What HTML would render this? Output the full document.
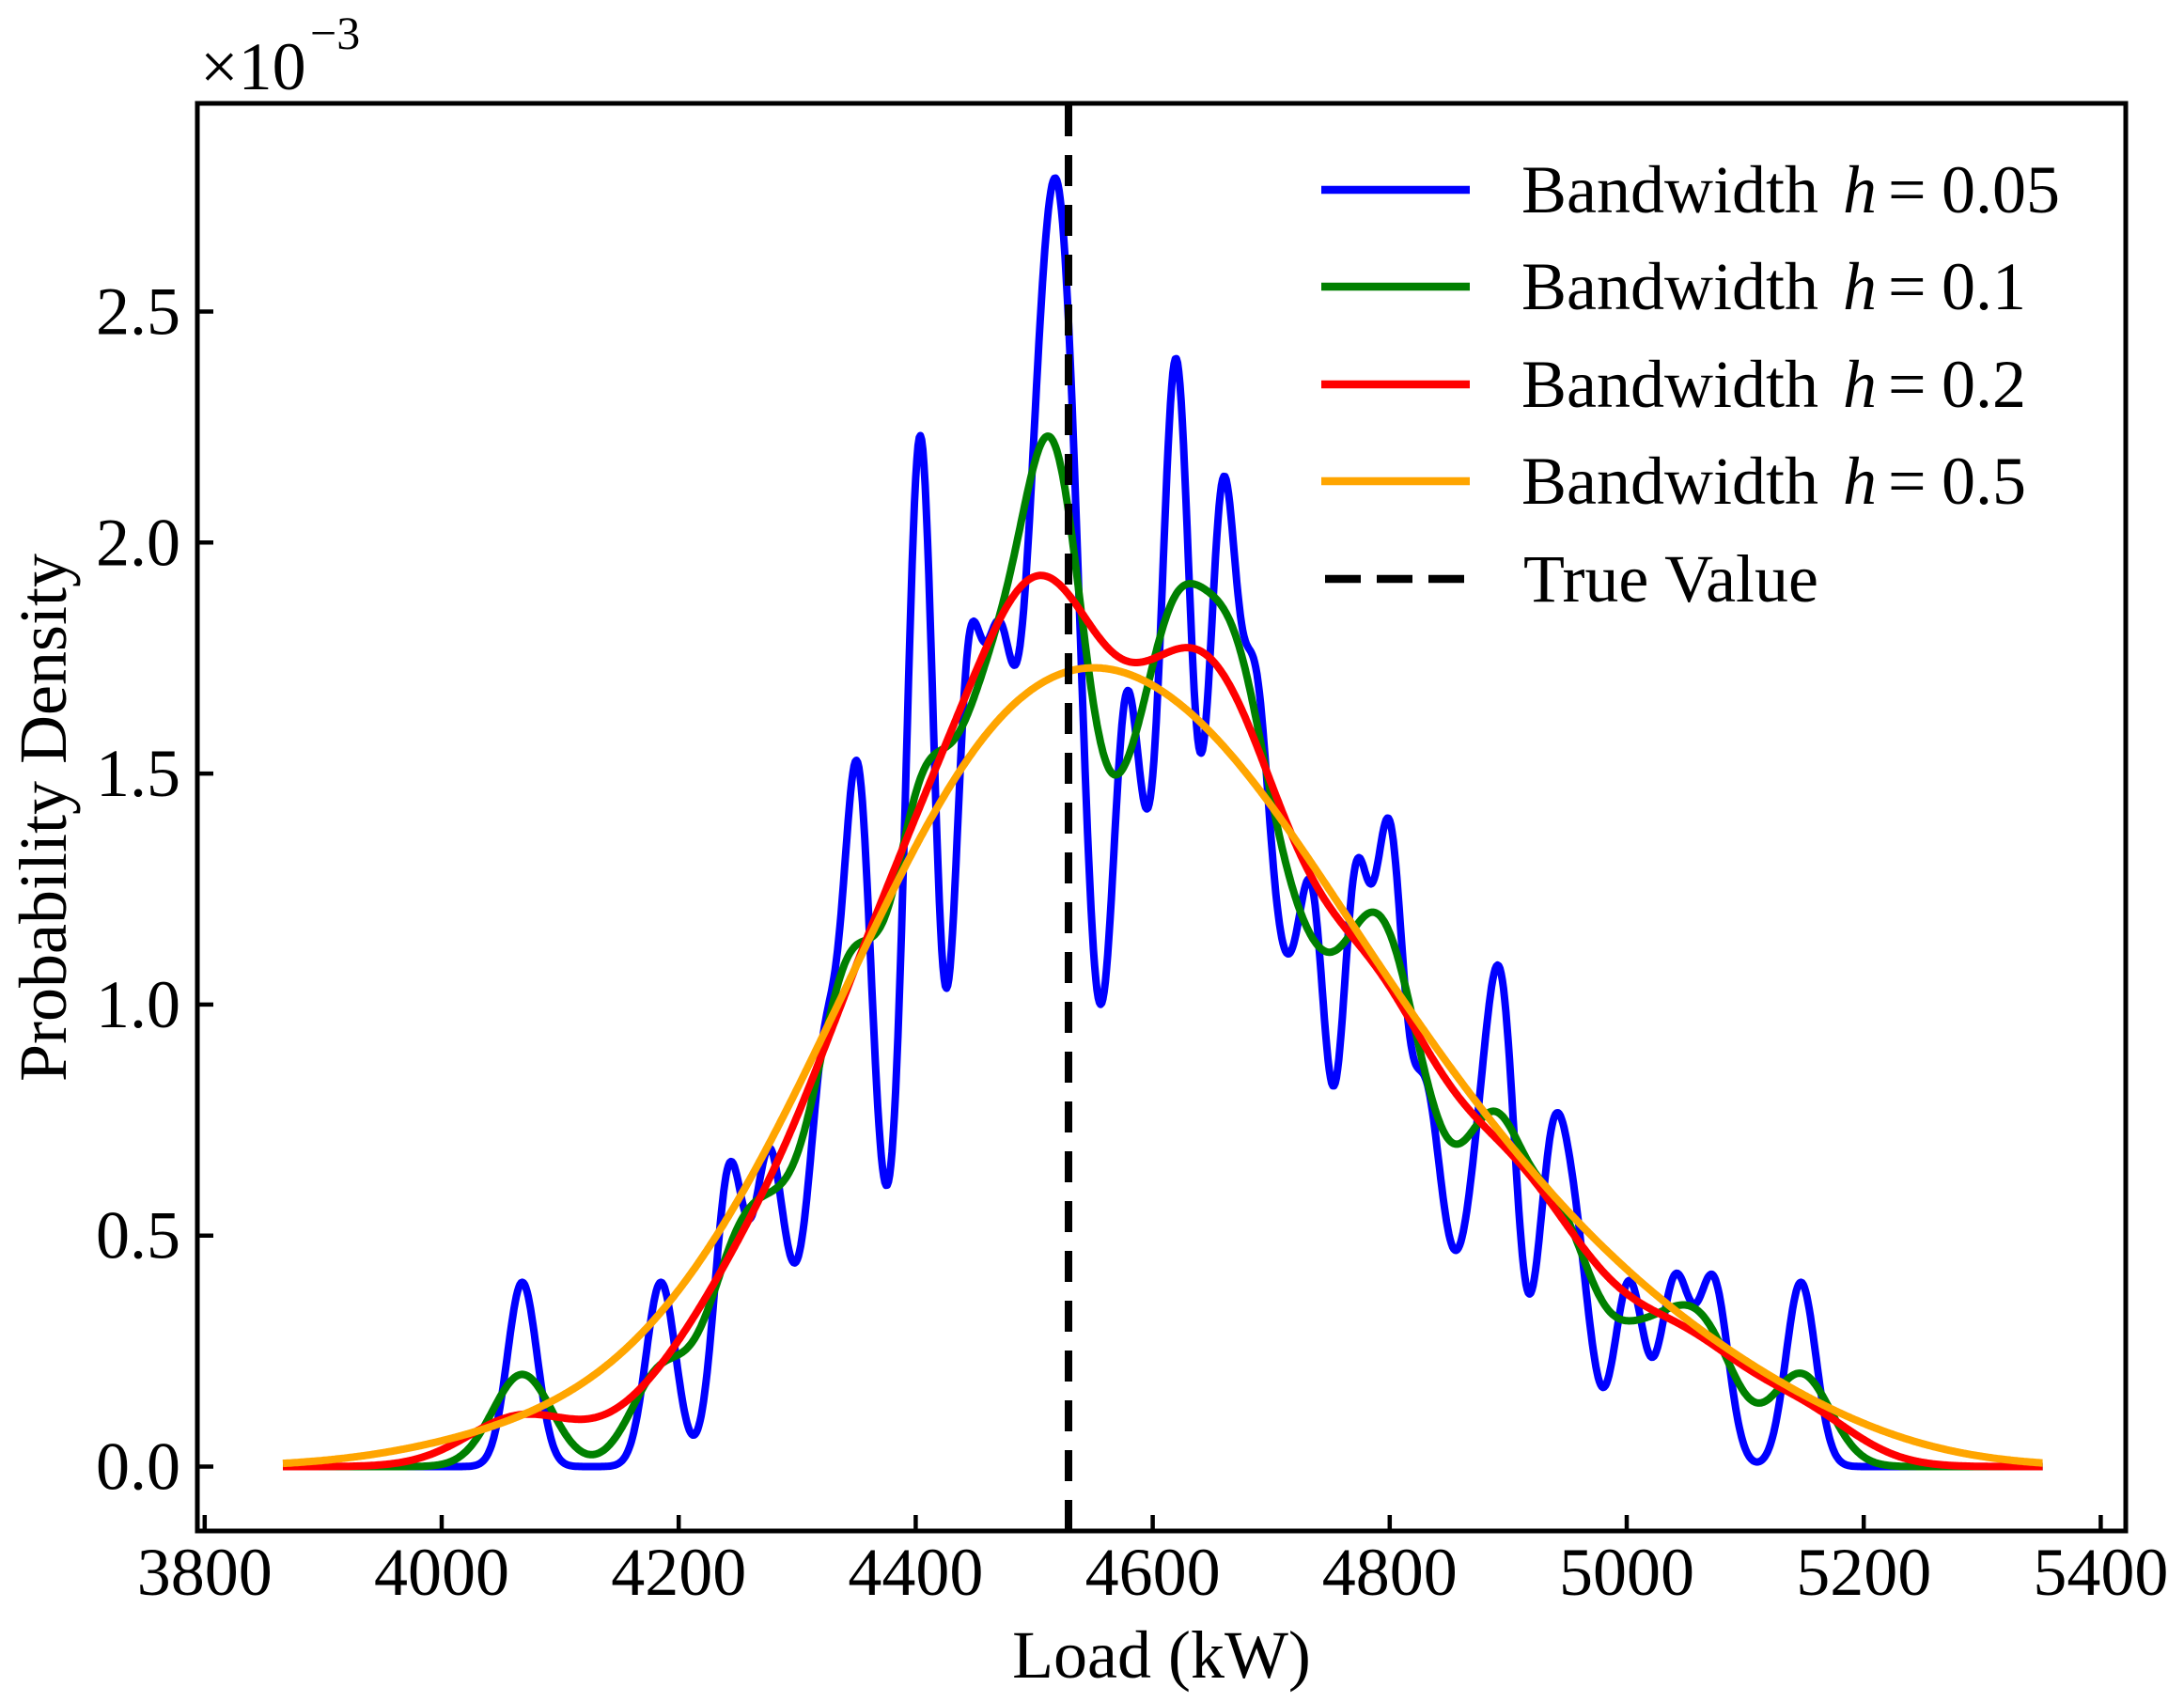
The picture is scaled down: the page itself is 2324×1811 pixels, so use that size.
<!DOCTYPE html>
<html><head><meta charset="utf-8"><style>
html,body{margin:0;padding:0;background:#fff;}
svg{display:block;}
text{font-family:"Liberation Serif","DejaVu Serif",serif;fill:#000;}
</style></head><body>
<svg id="s" width="2324" height="1811" viewBox="0 0 2324 1811" xmlns="http://www.w3.org/2000/svg">
<rect width="2324" height="1811" fill="#fff"/>
<g id="curves"></g>
<line x1="1137" y1="112" x2="1137" y2="1627" stroke="#000" stroke-width="8" stroke-dasharray="33,20"/>
<rect x="210" y="110" width="2052" height="1519" fill="none" stroke="#000" stroke-width="5"/>
<g id="ticks" stroke="#000" stroke-width="4.5"></g>
<g id="labels" font-size="72"></g>
<text x="213" y="95" font-size="72">×10</text>
<text x="330" y="52" font-size="50">−3</text>
<text transform="translate(70,870) rotate(-90)" text-anchor="middle" font-size="72">Probability Density</text>
<text x="1236" y="1785" text-anchor="middle" font-size="72">Load (kW)</text>
<g stroke-width="8.5">
<line x1="1406" y1="202" x2="1564" y2="202" stroke="#0000ff"/>
<line x1="1406" y1="305" x2="1564" y2="305" stroke="#008000"/>
<line x1="1406" y1="409" x2="1564" y2="409" stroke="#ff0000"/>
<line x1="1406" y1="512" x2="1564" y2="512" stroke="#ffa500"/>
<line x1="1410" y1="616" x2="1564" y2="616" stroke="#000" stroke-dasharray="38,17"/>
</g>
<g font-size="72">
<text x="1619" y="226">Bandwidth</text><text x="1961" y="226" font-style="italic">h</text><text x="2009" y="226">=</text><text x="2066" y="226">0.05</text>
<text x="1619" y="329">Bandwidth</text><text x="1961" y="329" font-style="italic">h</text><text x="2009" y="329">=</text><text x="2066" y="329">0.1</text>
<text x="1619" y="433">Bandwidth</text><text x="1961" y="433" font-style="italic">h</text><text x="2009" y="433">=</text><text x="2066" y="433">0.2</text>
<text x="1619" y="536">Bandwidth</text><text x="1961" y="536" font-style="italic">h</text><text x="2009" y="536">=</text><text x="2066" y="536">0.5</text>
<text x="1621" y="640">True Value</text>
</g>
</svg>
<script>
(function(){
var NS="http://www.w3.org/2000/svg";
function X(v){return 470+(v-4000)*1.261;}
function Y(d){return 1560.5-d*491.6;}
var pts=[[4068,1],[4185,1],[4243,1.6],[4276,1.6],[4300,0.5],[4323,2.0],[4351,3.6],[4378,0.6],[4404,5.5],[4444,4.0],[4470,3.6],[4490,1.6],[4503,2.7],[4516,3.2],[4529,3.2],[4542,1.3],[4556,0.6],[4577,3.6],[4598,1.6],[4620,5.4],[4642,1.1],[4660,4.6],[4687,3.6],[4711,1.8],[4735,2.8],[4771,3.0],[4800,3.2],[4830,1.8],[4852,0.6],[4875,1.2],[4895,2.3],[4937,1.6],[4958,1.0],[5002,1],[5041,1],[5073,1],[5147,1]];
var W=80;
function dens(x,s){var t=0;for(var i=0;i<pts.length;i++){var z=(x-pts[i][0])/s;t+=pts[i][1]*Math.exp(-0.5*z*z);}return t/(W*s*Math.sqrt(2*Math.PI))*1000;}
var series=[[12.5,"#0000ff"],[25,"#008000"],[46,"#ff0000"],[100,"#ffa500"]];
var g=document.getElementById("curves");
series.forEach(function(se){
 var d="";for(var x=3866;x<=5351;x+=1){var v=dens(x,se[0]);d+=(x==3866?"M":"L")+X(x).toFixed(1)+","+Y(v).toFixed(1);}
 var p=document.createElementNS(NS,"path");p.setAttribute("d",d);p.setAttribute("fill","none");p.setAttribute("stroke",se[1]);p.setAttribute("stroke-width","8");p.setAttribute("stroke-linejoin","round");g.appendChild(p);
});
var tg=document.getElementById("ticks"),lg=document.getElementById("labels");
for(var v=3800;v<=5400;v+=200){var x=X(v);var l=document.createElementNS(NS,"line");l.setAttribute("x1",x);l.setAttribute("x2",x);l.setAttribute("y1",1629);l.setAttribute("y2",1612);tg.appendChild(l);
 var t=document.createElementNS(NS,"text");t.setAttribute("x",x);t.setAttribute("y",1697);t.setAttribute("text-anchor","middle");t.textContent=v;lg.appendChild(t);}
for(var k=0;k<=5;k++){var val=k*0.5;var y=Y(val);var l=document.createElementNS(NS,"line");l.setAttribute("x1",210);l.setAttribute("x2",227);l.setAttribute("y1",y);l.setAttribute("y2",y);tg.appendChild(l);
 var t=document.createElementNS(NS,"text");t.setAttribute("x",192);t.setAttribute("y",y+24);t.setAttribute("text-anchor","end");t.textContent=val.toFixed(1);lg.appendChild(t);}
})();
</script>
</body></html>
